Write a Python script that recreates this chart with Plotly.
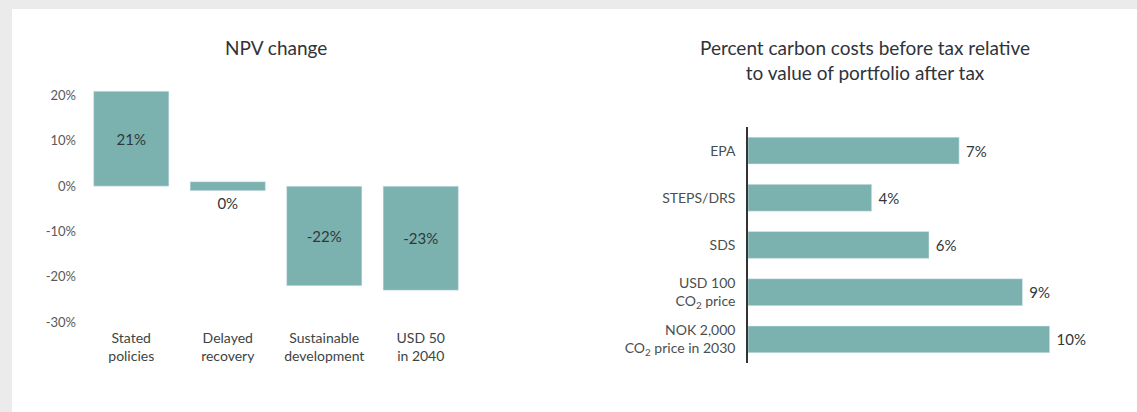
import plotly.graph_objects as go

# Left panel: NPV change per scenario
npv_scenarios = ["Stated<br>policies", "Delayed<br>recovery", "Sustainable<br>development", "USD 50<br>in 2040"]
npv_change = [21, 0, -22, -23]
npv_ticks = [20, 10, 0, -10, -20, -30]

# Right panel: carbon costs relative to portfolio value
carbon_scenarios = [
    "EPA",
    "STEPS/DRS",
    "SDS",
    "USD 100<br>CO<sub>2</sub> price",
    "NOK 2,000<br>CO<sub>2</sub> price in 2030",
]
carbon_cost_pct = [7.0, 4.1, 6.0, 9.1, 10.0]

W, H = 1137, 412
BAR = "#7bb2b0"
TXT = "#2f3838"
TICK = "#555a5a"
FONT = "Lato"


def fx(p):
    return p / W


def fy(p):
    return 1 - p / H


# a zero value gets a thin stub so the bar is still visible
stub = 1.0
npv_base = [0 if v else stub for v in npv_change]
npv_y = [v if v else -2 * stub for v in npv_change]
npv_pos = ["outside" if v == 0 else "inside" for v in npv_change]

fig = go.Figure()

fig.add_trace(go.Bar(
    x=npv_scenarios, y=npv_y, base=npv_base,
    text=[f"{v:.0f}%" for v in npv_change],
    textposition=npv_pos, insidetextanchor="middle",
    textfont=dict(color=TXT, size=15, family=FONT),
    marker_color=BAR, cliponaxis=False,
    xaxis="x", yaxis="y", showlegend=False,
))

fig.add_trace(go.Bar(
    y=carbon_scenarios, x=carbon_cost_pct, orientation="h",
    text=[f" {v:.0f}%" for v in carbon_cost_pct],
    textposition="outside",
    textfont=dict(color=TXT, size=15, family=FONT),
    marker_color=BAR, cliponaxis=False, width=0.57,
    xaxis="x2", yaxis="y2", showlegend=False,
))

title_font = dict(size=19, color="#30333b", family=FONT)

fig.update_layout(
    width=W, height=H,
    margin=dict(l=0, r=0, t=0, b=0),
    paper_bgcolor="#ebebeb",
    plot_bgcolor="rgba(0,0,0,0)",
    font=dict(family=FONT, color=TICK, size=13),
    bargap=0.22,
    xaxis=dict(
        domain=[fx(83), fx(469)], anchor="y", automargin=False,
        showgrid=False, zeroline=False, showline=False, ticks="",
        tickfont=dict(color="#3d4444", size=14), ticklabelstandoff=6,
    ),
    yaxis=dict(
        domain=[fy(322), fy(86.6)], anchor="x", automargin=False,
        range=[-30, 22], tickvals=npv_ticks,
        ticktext=[f"{t}%" for t in npv_ticks],
        showgrid=False, zeroline=False, showline=False, ticks="",
        tickfont=dict(color=TICK, size=13), ticklabelstandoff=6,
    ),
    xaxis2=dict(
        domain=[fx(748), fx(1110)], anchor="y2", automargin=False,
        range=[0, 12], showticklabels=False,
        showgrid=False, zeroline=False, showline=False, ticks="",
    ),
    yaxis2=dict(
        domain=[fy(363), fy(127)], anchor="x2", automargin=False,
        type="category", autorange="reversed",
        showgrid=False, zeroline=False, showline=True,
        linecolor="#333333", linewidth=1.5, ticks="",
        tickfont=dict(color="#4a4f4f", size=14), ticklabelstandoff=8,
    ),
    shapes=[dict(
        type="rect", xref="paper", yref="paper",
        x0=fx(12), x1=1, y0=0, y1=fy(9),
        fillcolor="white", line_width=0, layer="below",
    )],
    annotations=[
        dict(
            text="NPV change", x=fx(276), y=fy(48), xref="paper", yref="paper",
            xanchor="center", yanchor="middle", showarrow=False, font=title_font,
        ),
        dict(
            text="Percent carbon costs before tax relative<br>to value of portfolio after tax",
            x=fx(865), y=fy(60), xref="paper", yref="paper",
            xanchor="center", yanchor="middle", showarrow=False, font=title_font,
        ),
    ],
)

fig.write_html(
    "out.html",
    config={"displayModeBar": False},
    post_script="document.body.style.margin = '0';",
)
